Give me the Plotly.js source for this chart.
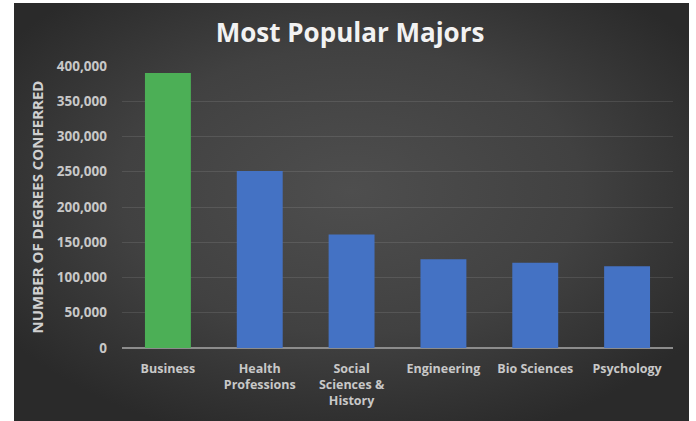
<!DOCTYPE html>
<html>
<head>
<meta charset="utf-8">
<script src="https://cdn.plot.ly/plotly-3.0.1.min.js"></script>
<style>
  html, body { margin: 0; padding: 0; background: #ffffff; }
  #bg { position: absolute; left: 14px; top: 3px; width: 675px; height: 418px;
        background: radial-gradient(ellipse 62% 62% at 50% 45%, #4e4e4e 0%, #414141 55%, #2a2a2a 100%); }
  #chart { position: absolute; left: 0; top: 0; width: 696px; height: 421px; }
</style>
</head>
<body>
<div id="bg"></div>
<div id="chart"></div>
<script>
const categories = ["Business", "Health<br>Professions", "Social<br>Sciences &<br>History", "Engineering", "Bio Sciences", "Psychology"];
const degrees = [390000, 251000, 161000, 126000, 121000, 116000];
const barColors = ["#4caf56", "#4472c4", "#4472c4", "#4472c4", "#4472c4", "#4472c4"];
const yTickVals = [0, 50000, 100000, 150000, 200000, 250000, 300000, 350000, 400000];
const yTickText = ["0", "50,000", "100,000", "150,000", "200,000", "250,000", "300,000", "350,000", "400,000"];

const fontFam = "Open Sans, Lato, sans-serif";

Plotly.newPlot("chart", [{
  type: "bar",
  x: categories,
  y: degrees,
  marker: { color: barColors, line: { width: 0 } },
  hoverinfo: "x+y"
}], {
  width: 696, height: 421,
  paper_bgcolor: "rgba(0,0,0,0)",
  plot_bgcolor: "rgba(0,0,0,0)",
  margin: { l: 122, r: 23, t: 66, b: 73 },
  bargap: 0.5,
  showlegend: false,
  title: {
    text: "<b>Most Popular Majors</b>",
    font: { family: fontFam, size: 26, color: "#f2f2f2" },
    x: 0.503, xanchor: "center", y: 0.922, yanchor: "middle"
  },
  xaxis: {
    type: "category",
    tickfont: { family: fontFam, size: 12.5, color: "#c8c8c8", weight: "bold" },
    showgrid: false,
    showline: false,
    ticks: "",
    ticklabelstandoff: 11
  },
  yaxis: {
    range: [0, 400000],
    tickvals: yTickVals,
    ticktext: yTickText,
    tickfont: { family: fontFam, size: 13.5, color: "#c8c8c8", weight: "bold" },
    gridcolor: "rgba(255,255,255,0.1)",
    gridwidth: 1,
    zeroline: true,
    zerolinecolor: "#8c8c8c",
    zerolinewidth: 2,
    showline: false,
    ticks: "",
    ticklabelstandoff: 14,
    title: {
      text: "<b>NUMBER OF DEGREES CONFERRED</b>",
      font: { family: fontFam, size: 15, color: "#d0d0d0" },
      standoff: 9
    }
  }
}, { displayModeBar: false, staticPlot: true });
</script>
</body>
</html>
